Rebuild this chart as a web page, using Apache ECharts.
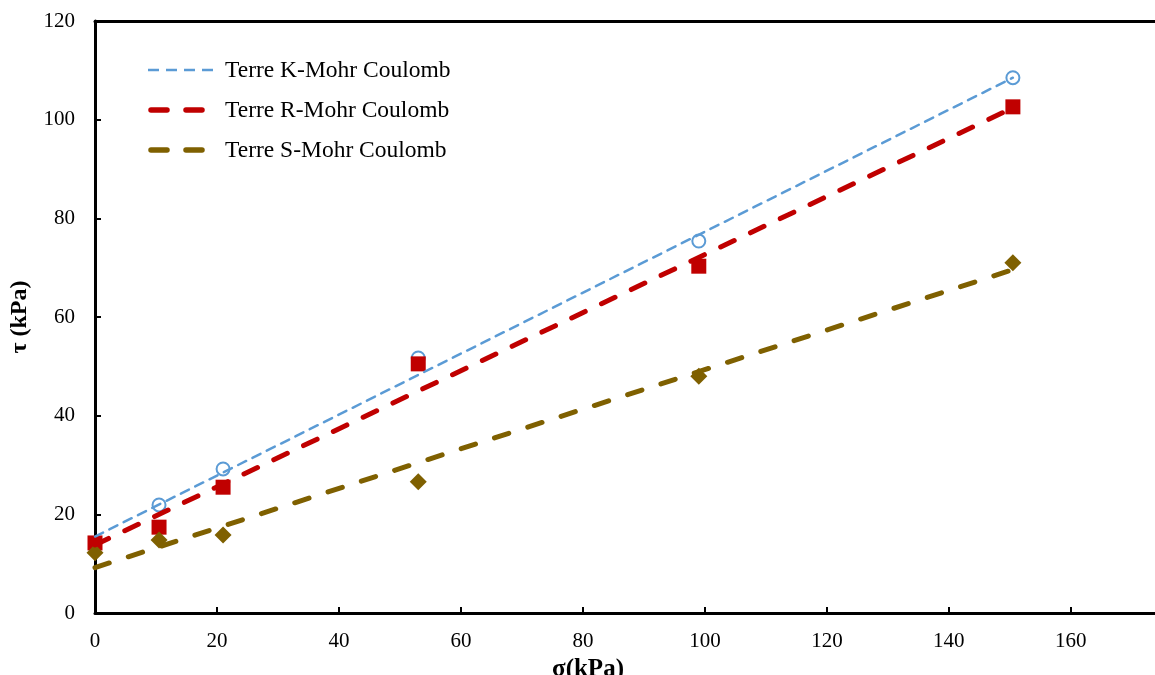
<!DOCTYPE html>
<html>
<head>
<meta charset="utf-8">
<script src="https://cdn.jsdelivr.net/npm/echarts@6/dist/echarts.min.js"></script>
<style>html,body{margin:0;padding:0;background:#fff;}#c{width:1155px;height:675px;}</style>
</head>
<body>
<div id="c"></div>
<script>
// Measured points (sigma kPa, tau kPa)
const kPoints = [[10.5, 21.9], [21, 29.2], [53, 51.7], [99, 75.4], [150.5, 108.5]];
const rPoints = [[0, 14.2], [10.5, 17.4], [21, 25.5], [53, 50.5], [99, 70.3], [150.5, 102.6]];
const sPoints = [[0, 12.2], [10.5, 14.8], [21, 15.8], [53, 26.6], [99, 48.0], [150.5, 71.0]];
// Mohr-Coulomb fit lines (end points)
const kFit = [[0, 15.5], [150.5, 108.5]];
const rFit = [[0, 13.8], [150.5, 102.4]];
const sFit = [[0, 9.2], [150.5, 69.6]];
const xTicks = [0, 20, 40, 60, 80, 100, 120, 140, 160];
const yTicks = [0, 20, 40, 60, 80, 100, 120];
const names = ['Terre K-Mohr Coulomb', 'Terre R-Mohr Coulomb', 'Terre S-Mohr Coulomb'];

const FONT = '"Liberation Serif", "DejaVu Serif", serif';
const cK = '#5B9BD5', cR = '#C00000', cS = '#7F6000';
const X_MAX = 173.8;
const lineStyles = [
  {color: cK, width: 2.5, type: [9, 7], cap: 'round'},
  {color: cR, width: 5, type: [15, 18], cap: 'round'},
  {color: cS, width: 5, type: [15, 20], cap: 'round'}
];

// Legend drawn as graphic elements (dash segments + real text)
const legendRows = [
  {x1: 148, x2: 213, width: 2.5, dash: 11, gap: 7, cap: 'butt', color: cK},
  {x1: 151, x2: 202, width: 5.5, dash: 16, gap: 19, cap: 'round', color: cR},
  {x1: 151, x2: 202, width: 5.5, dash: 16, gap: 19, cap: 'round', color: cS}
];
const legendGraphics = [];
legendRows.forEach((r, i) => {
  const y = 70 + i * 40;
  for (let x = r.x1; x < r.x2; x += r.dash + r.gap) {
    legendGraphics.push({
      type: 'line', silent: true, z: 10,
      shape: {x1: x, y1: y, x2: Math.min(x + r.dash, r.x2), y2: y},
      style: {stroke: r.color, lineWidth: r.width, lineCap: r.cap}
    });
  }
  legendGraphics.push({
    type: 'text', silent: true, z: 10, x: 225, y: y + 1,
    style: {text: names[i], fill: '#000', font: '23.5px "Liberation Serif", serif', verticalAlign: 'middle', align: 'left'}
  });
});

const chart = echarts.init(document.getElementById('c'), null, {renderer: 'canvas'});
chart.setOption({
  animation: false,
  backgroundColor: '#fff',
  textStyle: {fontFamily: FONT},
  grid: {left: 95, top: 21, bottom: 62, right: 0, outerBoundsMode: 'none', containLabel: false},
  graphic: legendGraphics,
  xAxis: [{
    type: 'value', min: 0, max: X_MAX, interval: 20,
    name: 'σ(kPa)', nameLocation: 'middle', nameGap: 34,
    nameTextStyle: {fontFamily: FONT, fontSize: 25, fontWeight: 'bold', color: '#000', padding: [0, 74, 0, 0]},
    axisLine: {show: true, lineStyle: {color: '#000', width: 3}},
    axisTick: {show: true, inside: true, length: 6, customValues: xTicks, lineStyle: {color: '#000', width: 2}},
    axisLabel: {fontFamily: FONT, fontSize: 21, color: '#000', margin: 18, customValues: xTicks},
    splitLine: {show: false}
  }, {
    type: 'value', min: 0, max: X_MAX, position: 'top',
    axisLine: {show: true, onZero: false, lineStyle: {color: '#000', width: 3}},
    axisTick: {show: false}, axisLabel: {show: false}, splitLine: {show: false}
  }],
  yAxis: {
    type: 'value', min: 0, max: 120, interval: 20,
    name: 'τ (kPa)', nameLocation: 'middle', nameGap: 63, nameRotate: 90,
    nameTextStyle: {fontFamily: FONT, fontSize: 24, fontWeight: 'bold', color: '#000'},
    axisLine: {show: true, lineStyle: {color: '#000', width: 3}},
    axisTick: {show: true, inside: true, length: 6, lineStyle: {color: '#000', width: 2}},
    axisLabel: {fontFamily: FONT, fontSize: 21, color: '#000', margin: 20,
      formatter: v => yTicks.includes(v) ? String(v) : ''},
    splitLine: {show: false}
  },
  series: [
    {type: 'scatter', name: 'K data', data: kPoints, symbol: 'circle', symbolSize: 13, z: 2,
      itemStyle: {color: '#fff', borderColor: cK, borderWidth: 2, opacity: 1}},
    {type: 'scatter', name: 'R data', data: rPoints, symbol: 'rect', symbolSize: 15, z: 2,
      itemStyle: {color: cR, opacity: 1}},
    {type: 'scatter', name: 'S data', data: sPoints, symbol: 'diamond', symbolSize: 17, z: 2,
      itemStyle: {color: cS, opacity: 1}},
    {type: 'line', name: names[0], data: kFit, showSymbol: false, symbol: 'none', z: 3,
      itemStyle: {color: cK}, lineStyle: lineStyles[0]},
    {type: 'line', name: names[1], data: rFit, showSymbol: false, symbol: 'none', z: 3,
      itemStyle: {color: cR}, lineStyle: lineStyles[1]},
    {type: 'line', name: names[2], data: sFit, showSymbol: false, symbol: 'none', z: 3,
      itemStyle: {color: cS}, lineStyle: lineStyles[2]}
  ]
});
</script>
</body>
</html>
